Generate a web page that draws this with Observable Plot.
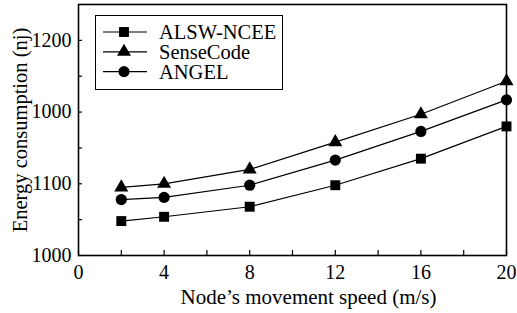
<!DOCTYPE html>
<html><head><meta charset="utf-8">
<script src="https://cdn.jsdelivr.net/npm/d3@7"></script>
<script src="https://cdn.jsdelivr.net/npm/@observablehq/plot@0.6"></script>
<style>
body{margin:0;background:#fff}
#wrap{position:relative;width:517px;height:313px;font-family:'Liberation Serif','DejaVu Serif',serif}
#wrap svg text{font-family:'Liberation Serif','DejaVu Serif',serif}
#legend{position:absolute;left:95px;top:15px}
</style></head><body><div id="wrap"></div>
<script>
const speeds = [2, 4, 8, 12, 16, 20];
const alswNcee = [1048, 1054, 1068, 1098, 1135, 1180];
const senseCode = [1095, 1100, 1120, 1158, 1197, 1243];
const angel = [1078, 1081, 1098, 1133, 1173, 1217];
const seriesNames = ["ALSW-NCEE", "SenseCode", "ANGEL"];
const seriesSymbols = ["square", "triangle", "circle"];
const seriesR = [5.6, 5.2, 5.6];
const xTicks = [0, 4, 8, 12, 16, 20];
const xMinorTicks = [2, 6, 10, 14, 18];
const yTicks = [1000, 1100, 1200, 1300];
const yTickLabels = ["1000", "1100", "1000", "1200"];
const yMinorTicks = [1050, 1150, 1250];
const xTitle = "Node\u2019s movement speed (m/s)";
const yTitle = "Energy consumption (nj)";

const seriesValues = [alswNcee, senseCode, angel];
const rows = seriesNames.flatMap((name, s) =>
  speeds.map((sp, i) => ({series: name, speed: sp, energy: seriesValues[s][i]})));

const font = "'Liberation Serif','DejaVu Serif',serif";

const chart = Plot.plot({
  width: 517, height: 313,
  marginLeft: 78, marginRight: 11, marginTop: 4, marginBottom: 58,
  style: {fontFamily: font, fontSize: "20px", color: "black", background: "white"},
  x: {domain: [0, 20]},
  y: {domain: [1000, 1350]},
  marks: [
    Plot.line(rows, {x: "speed", y: "energy", z: "series", stroke: "black", strokeWidth: 1.2}),
    ...seriesNames.map((name, s) =>
      Plot.dot(rows.filter(d => d.series === name), {x: "speed", y: "energy", symbol: () => seriesSymbols[s], fill: "black", stroke: "none", r: seriesR[s]})),
    Plot.axisX(xTicks, {tickSize: 0, tickPadding: 9, fontSize: 20, label: null}),
    Plot.axisX([...xTicks, ...xMinorTicks], {tickSize: -5, tickFormat: () => "", label: null, strokeWidth: 1.2}),
    Plot.axisY(yTicks, {tickSize: 0, tickPadding: 7, fontSize: 20, label: null, tickFormat: d => yTickLabels[yTicks.indexOf(d)]}),
    Plot.axisY([...yTicks, ...yMinorTicks], {tickSize: -4, tickFormat: () => "", label: null, strokeWidth: 1.2}),
    Plot.frame({stroke: "black", strokeWidth: 1.6}),
    Plot.text([xTitle], {frameAnchor: "bottom", textAnchor: "middle", lineAnchor: "middle", dy: 42, dx: 16, fontSize: 21, fill: "black"}),
    Plot.text([yTitle], {frameAnchor: "left", textAnchor: "middle", lineAnchor: "middle", rotate: -90, dx: -58.5, fontSize: 20.5, fill: "black"})
  ]
});
const wrap = document.getElementById("wrap");
wrap.appendChild(chart);

// legend
const lw = 188, lh = 75;
const leg = d3.create("svg").attr("id", "legend").attr("width", lw).attr("height", lh);
leg.append("rect").attr("x", 0.5).attr("y", 0.5).attr("width", lw - 1).attr("height", lh - 1)
  .attr("fill", "white").attr("stroke", "black").attr("stroke-width", 1);
const symMap = {square: d3.symbolSquare, triangle: d3.symbolTriangle, circle: d3.symbolCircle};
seriesNames.forEach((name, s) => {
  const cy = 17 + s * 19.8;
  const g = leg.append("g");
  g.append("line").attr("x1", 8).attr("x2", 52).attr("y1", cy).attr("y2", cy).attr("stroke", "black").attr("stroke-width", 1.2);
  g.append("path").attr("transform", `translate(29,${cy})`)
    .attr("d", d3.symbol(symMap[seriesSymbols[s]], Math.PI * seriesR[s] * seriesR[s])())
    .attr("fill", "black");
  g.append("text").attr("x", 64).attr("y", cy).attr("dy", "0.34em")
    .attr("font-size", 20.5).attr("fill", "black").text(name);
});
wrap.appendChild(leg.node());
</script></body></html>
